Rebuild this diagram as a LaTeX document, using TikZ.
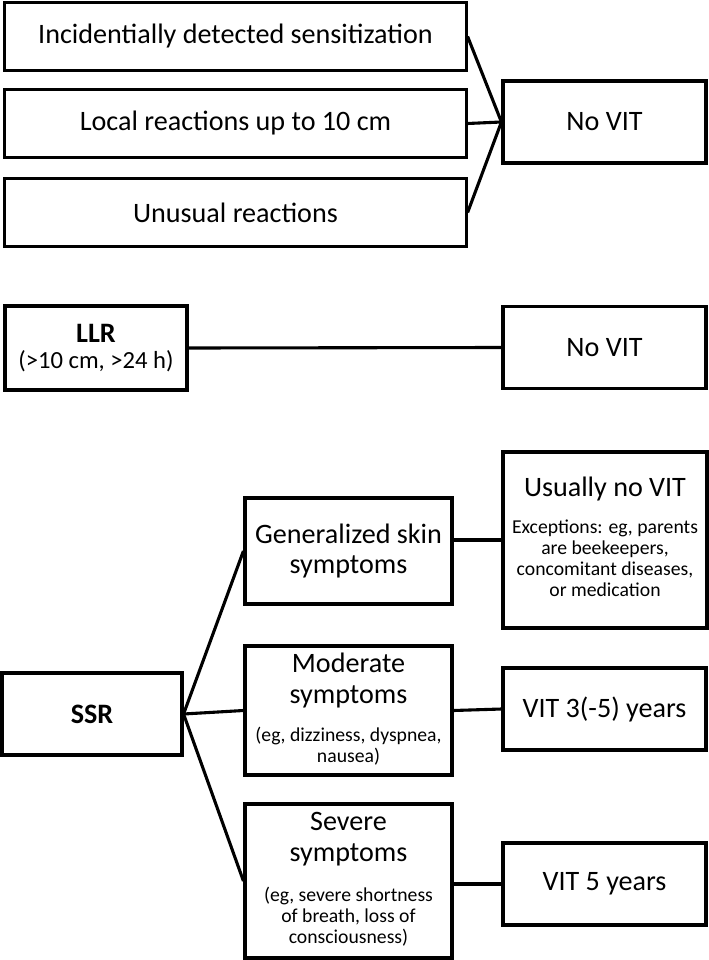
\documentclass[tikz,border=0pt]{standalone}
\usepackage{fontspec}
\setmainfont{Carlito}
\newcommand{\boxnote}[1]{{\fontsize{14}{15}\selectfont\begin{tabular}[t]{@{}c@{}}#1\end{tabular}}}
\begin{document}
\begin{tikzpicture}[x=0.025cm,y=-0.025cm]

    \tikzset{
      box/.style={
        draw,
        line width=2.2pt,
        inner sep=2pt,
        align=center,
        font=\fontsize{20}{22}\selectfont,
      },
      link/.style={line width=2.2pt, line join=round},
    }
    \useasboundingbox (0,0) rectangle (709,960);
    % local reactions
    \node[box, minimum width=11.525cm, minimum height=1.68cm] (incid) at (235.5,36.5) {Incidentially detected sensitization};
    \node[box, minimum width=11.525cm, minimum height=1.68cm] (local) at (235.5,123.5) {Local reactions up to 10 cm};
    \node[box, minimum width=11.525cm, minimum height=1.7cm] (unusual) at (235.5,212.5) {Unusual reactions};
    \node[box, minimum width=5.075cm, minimum height=2.05cm] (novit1) at (604.5,122) {No VIT};
    \draw[link] (incid.east) -- (novit1.west);
    \draw[link] (local.east) -- (novit1.west);
    \draw[link] (unusual.east) -- (novit1.west);
    % LLR
    \node[box, minimum width=4.55cm, minimum height=2.1cm] (llr) at (96,348) {\textbf{LLR}\\[-3pt]{\fontsize{17.5}{20}\selectfont(>10 cm, >24 h)}};
    \node[box, minimum width=5.075cm, minimum height=2.03cm] (novit2) at (604.5,347.5) {No VIT};
    \draw[link] (llr.east) -- (novit2.west);
    % SSR
    \node[box, minimum width=4.5cm, minimum height=2.05cm] (ssr) at (92,714) {\textbf{SSR}};
    \node[box, minimum width=5.175cm, minimum height=2.65cm] (skin) at (348.5,551) {Generalized skin\\symptoms};
    \node[box, minimum width=5.175cm, minimum height=3.225cm] (moderate) at (348.5,710.5) {Moderate\\symptoms\\[5pt]\boxnote{(eg, dizziness, dyspnea,\\nausea)}};
    \node[box, minimum width=5.175cm, minimum height=3.85cm] (severe) at (348.5,881) {Severe\\symptoms\\[6pt]\boxnote{(eg, severe shortness\\of breath, loss of\\consciousness)}};
    \node[box, minimum width=5.1cm, minimum height=4.4cm] (usual) at (605,540) {Usually no VIT\\[4pt]\boxnote{Exceptions: eg, parents\\are beekeepers,\\concomitant diseases,\\or medication}};
    \node[box, minimum width=5.075cm, minimum height=2.05cm] (vit3) at (604.5,709) {VIT 3(-5) years};
    \node[box, minimum width=5.075cm, minimum height=2.05cm] (vit5) at (604.5,884) {VIT 5 years};
    \draw[link] (skin.west) -- (ssr.east) -- (severe.west);
    \draw[link] (ssr.east) -- (moderate.west);
    \draw[link] (usual.west -| skin.east) -- (usual.west);
    \draw[link] (moderate.east) -- (vit3.west);
    \draw[link] (vit5.west -| severe.east) -- (vit5.west);

\end{tikzpicture}
\end{document}
